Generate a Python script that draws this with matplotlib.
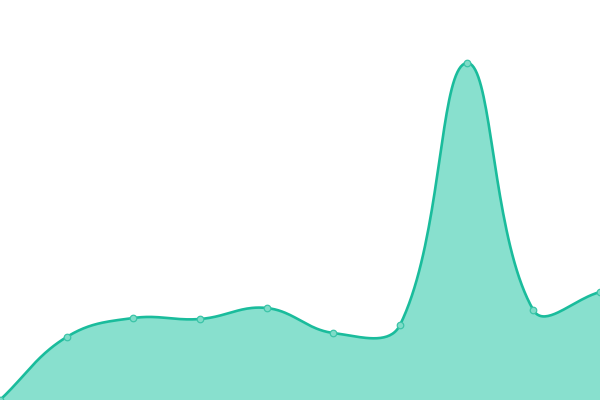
import numpy as np
import matplotlib
matplotlib.use("Agg")
import matplotlib.pyplot as plt

# values (pixel height above the bottom edge)
labels = ["p0", "p1", "p2", "p3", "p4", "p5", "p6", "p7", "p8", "p9"]
values = [0, 63, 82, 81, 92, 67, 75, 337, 90, 108]

LINE = "#1abc9c"
FILL = "#88e0ce"
TENSION = 0.4


def spline(xs, ys, sx, sy, steps=40):
    # Chart.js style cubic bezier through the points, distances in pixel space
    px = np.asarray(xs, float) * sx
    py = np.asarray(ys, float) * sy
    n = len(px)
    cps = []
    for i in range(n):
        p = max(i - 1, 0)
        q = min(i + 1, n - 1)
        d01 = np.hypot(px[i] - px[p], py[i] - py[p])
        d12 = np.hypot(px[q] - px[i], py[q] - py[i])
        tot = d01 + d12
        s01 = d01 / tot if tot else 0
        s12 = d12 / tot if tot else 0
        fa, fb = TENSION * s01, TENSION * s12
        dx, dy = px[q] - px[p], py[q] - py[p]
        cps.append(((px[i] - fa * dx, py[i] - fa * dy), (px[i] + fb * dx, py[i] + fb * dy)))
    out_x, out_y = [px[0]], [py[0]]
    t = np.linspace(0, 1, steps)[1:]
    for i in range(n - 1):
        x0, y0 = px[i], py[i]
        x1, y1 = cps[i][1]
        x2, y2 = cps[i + 1][0]
        x3, y3 = px[i + 1], py[i + 1]
        bx = (1 - t) ** 3 * x0 + 3 * (1 - t) ** 2 * t * x1 + 3 * (1 - t) * t ** 2 * x2 + t ** 3 * x3
        by = (1 - t) ** 3 * y0 + 3 * (1 - t) ** 2 * t * y1 + 3 * (1 - t) * t ** 2 * y2 + t ** 3 * y3
        out_x.extend(bx)
        out_y.extend(by)
    return np.array(out_x) / sx, np.array(out_y) / sy


def main():
    fig = plt.figure(figsize=(6, 4), dpi=100)
    ax = fig.add_axes([0, 0, 1, 1])
    xs = np.arange(len(values))
    ax.set_xlim(0, len(values) - 1)
    ax.set_ylim(0, 400)

    cx, cy = spline(xs, values, 600 / (len(values) - 1), 1.0)
    ax.fill_between(cx, cy, 0, color=FILL, lw=0, zorder=1)
    ax.plot(cx, cy, color=LINE, lw=1.9, zorder=2, solid_capstyle="round")
    ax.scatter(xs, values, s=22, facecolor="#7fdcc8", edgecolor="#3cc4a8",
               linewidths=0.9, zorder=3, clip_on=False)
    ax.axis("off")

    fig.savefig("out.png", dpi=100)
    plt.close(fig)


if __name__ == "__main__":
    main()
